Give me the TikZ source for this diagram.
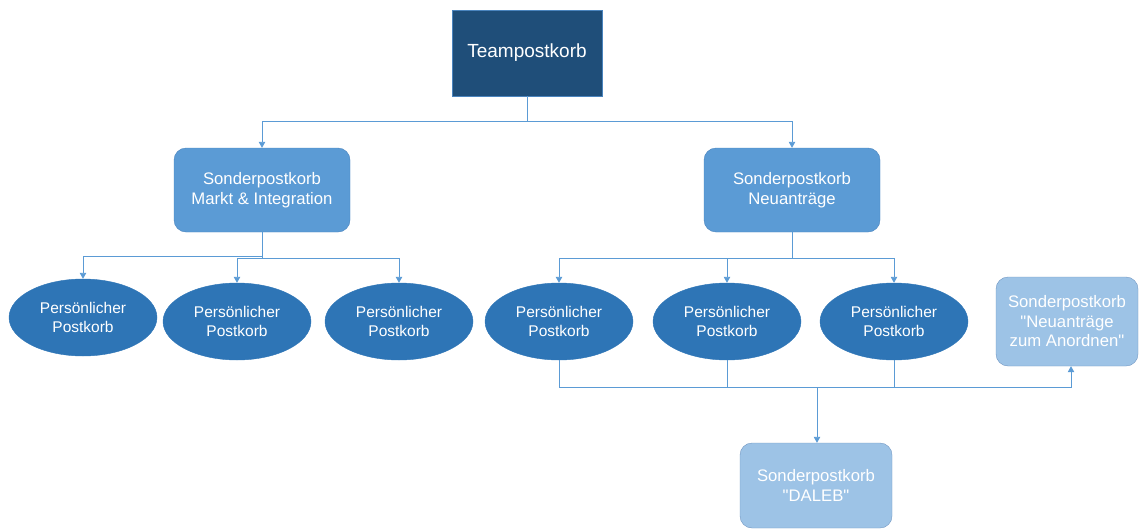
\documentclass[tikz,border=0pt]{standalone}
\usepackage{fontspec}
\setmainfont{Liberation Sans}[Ligatures=TeXOff]
\usetikzlibrary{arrows.meta,shapes.geometric}
\definecolor{dark}{HTML}{1F4E79}
\definecolor{mid}{HTML}{5B9BD5}
\definecolor{midb}{HTML}{4A84BE}
\definecolor{ell}{HTML}{2E75B6}
\definecolor{light}{HTML}{9DC3E6}
\definecolor{lightb}{HTML}{7096C2}
\definecolor{conn}{HTML}{5B9BD5}
\tikzset{
  topbox/.style={draw=midb,fill=dark,text=white,minimum width=150pt,minimum height=86pt,inner sep=0pt,font=\fontsize{19}{22}\selectfont},
  midbox/.style={draw=midb,fill=mid,text=white,rounded corners=12pt,minimum width=176pt,minimum height=84pt,inner sep=0pt,align=center,font=\fontsize{16.7}{19.5}\selectfont},
  lightbox/.style={draw=lightb,fill=light,text=white,rounded corners=12pt,inner sep=0pt,align=center,font=\fontsize{16.7}{19.5}\selectfont},
  pers/.style={ellipse,fill=ell,draw=ell,text=white,minimum width=148pt,minimum height=77pt,inner sep=0pt,align=center,font=\fontsize{15.5}{18.5}\selectfont},
  link/.style={draw=conn,line width=0.9pt},
  arr/.style={link,-{Triangle[width=6.5pt,length=6pt]}}
}
\begin{document}
\begin{tikzpicture}[x=1pt,y=-1pt]
\useasboundingbox (0,0) rectangle (1139,530);
\node[topbox] (team) at (527,53) {Teampostkorb};
\node[midbox] (markt) at (262,190) {Sonderpostkorb\\Markt \& Integration};
\node[midbox] (neu) at (792,190) {Sonderpostkorb\\Neuanträge};
\node[pers] (l1) at (83,317.5) {Persönlicher\\Postkorb};
\node[pers] (l2) at (237,321.5) {Persönlicher\\Postkorb};
\node[pers] (l3) at (399,321.5) {Persönlicher\\Postkorb};
\node[pers] (r1) at (559,321.5) {Persönlicher\\Postkorb};
\node[pers] (r2) at (727,321.5) {Persönlicher\\Postkorb};
\node[pers] (r3) at (894,321.5) {Persönlicher\\Postkorb};
\node[lightbox,minimum width=142pt,minimum height=89pt] (anord) at (1067,321.5) {Sonderpostkorb\\"Neuanträge\\zum Anordnen"};
\node[lightbox,minimum width=152pt,minimum height=85pt] (daleb) at (816,485.5) {Sonderpostkorb\\"DALEB"};
\coordinate (j1) at (527,121);
\coordinate (j2) at (262,256);
\coordinate (j2b) at (262,258);
\coordinate (j3) at (792,258);
\coordinate (bus) at (817,387);
\draw[link] (team.south) -- (j1);
\draw[arr] (j1) -| (markt.north);
\draw[arr] (j1) -| (neu.north);
\draw[link] (markt.south) -- (j2b);
\draw[arr] (j2) -| (l1.north);
\draw[arr] (j2b) -| (l2.north);
\draw[arr] (j2b) -| (l3.north);
\draw[link] (neu.south) -- (j3);
\draw[arr] (j3) -| (r1.north);
\draw[arr] (j3) -| (r2.north);
\draw[arr] (j3) -| (r3.north);
\draw[link] (r1.south) -- (r1.south |- bus) -- (bus);
\draw[link] (r2.south) -- (r2.south |- bus);
\draw[link] (r3.south) -- (r3.south |- bus) -- (bus);
\draw[arr] (r3.south |- bus) -| ([xshift=4pt]anord.south);
\draw[arr] (bus) -- (bus |- daleb.north);
\end{tikzpicture}
\end{document}
